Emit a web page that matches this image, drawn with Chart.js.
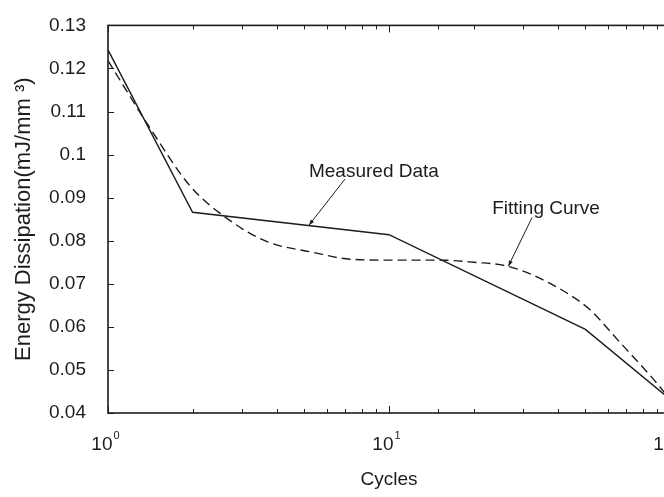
<!DOCTYPE html>
<html>
<head>
<meta charset="utf-8">
<script src="https://cdn.jsdelivr.net/npm/chart.js@4"></script>
<style>
  html, body { margin: 0; padding: 0; background: #fff; overflow: hidden; }
  #wrap { width: 700px; height: 497px; }
</style>
</head>
<body>
<div id="wrap"><canvas id="chart"></canvas></div>
<script>
// measured points (cycles vs energy dissipation)
const cycles = [1, 2, 10, 50, 100];
const measured = [0.1243, 0.0866, 0.0814, 0.0594, 0.0432];

// fitting curve
const fitCycles = [1, 1.41, 1.96, 2.65, 3.68, 5.37, 7.27, 10, 15.2, 20, 26.4, 33.6, 43.1, 52.1, 64.9, 78.3, 88.5, 100];
const fitted = [0.1218, 0.1062, 0.0927, 0.0852, 0.0798, 0.0773, 0.0757, 0.0755, 0.0755, 0.0750, 0.0741, 0.0716, 0.0678, 0.0639, 0.0571, 0.0513, 0.0474, 0.0432];

const yTicks = [0.04, 0.05, 0.06, 0.07, 0.08, 0.09, 0.10, 0.11, 0.12, 0.13];
const xDecades = [1, 10, 100];

const fontFamily = "'Liberation Sans', Arial, Helvetica, sans-serif";
const ink = "#1c1c1c";

// labels with leader arrows, placed in data units
const notes = [
    { text: "Measured Data", at: [5.19, 0.0961], from: [6.97, 0.0943], to: [5.19, 0.0836] },
    { text: "Fitting Curve", at: [23.3, 0.0875], from: [32.3, 0.0854], to: [26.6, 0.0741] }
];

function isDecade(v) {
    const l = Math.log10(v);
    return Math.abs(l - Math.round(l)) < 1e-9;
}

// box around the plot with inward ticks, matlab style
const framePlugin = {
    id: "frame",
    afterDraw(chart) {
        const { ctx, chartArea: a, scales: { x, y } } = chart;
        ctx.save();
        ctx.strokeStyle = ink;
        ctx.fillStyle = ink;
        ctx.lineWidth = 1;
        x.ticks.forEach(t => {
            const px = Math.round(x.getPixelForValue(t.value)) + 0.5;
            const len = isDecade(t.value) ? 7 : 4;
            ctx.beginPath();
            ctx.moveTo(px, a.bottom); ctx.lineTo(px, a.bottom - len);
            ctx.moveTo(px, a.top); ctx.lineTo(px, a.top + len);
            ctx.stroke();
        });
        yTicks.forEach(v => {
            const py = Math.round(y.getPixelForValue(v)) + 0.5;
            ctx.beginPath();
            ctx.moveTo(a.left, py); ctx.lineTo(a.left + 6, py);
            ctx.moveTo(a.right, py); ctx.lineTo(a.right - 6, py);
            ctx.stroke();
        });
        ctx.lineWidth = 1.6;
        ctx.strokeRect(a.left, a.top, a.right - a.left, a.bottom - a.top);

        // x tick labels as 10 with a raised exponent
        ctx.textBaseline = "alphabetic";
        ctx.textAlign = "left";
        xDecades.forEach(v => {
            const exp = String(Math.round(Math.log10(v)));
            ctx.font = "19px " + fontFamily;
            const wBase = ctx.measureText("10").width;
            ctx.font = "11px " + fontFamily;
            const wExp = ctx.measureText(exp).width;
            const left = x.getPixelForValue(v) - (wBase + wExp) / 2 - 3;
            ctx.font = "19px " + fontFamily;
            ctx.fillText("10", left, a.bottom + 37);
            ctx.font = "11px " + fontFamily;
            ctx.fillText(exp, left + wBase + 1, a.bottom + 26);
        });

        // annotations
        ctx.font = "19px " + fontFamily;
        ctx.textBaseline = "middle";
        notes.forEach(n => {
            ctx.fillText(n.text, x.getPixelForValue(n.at[0]), y.getPixelForValue(n.at[1]));
            const x1 = x.getPixelForValue(n.from[0]), y1 = y.getPixelForValue(n.from[1]);
            const x2 = x.getPixelForValue(n.to[0]), y2 = y.getPixelForValue(n.to[1]);
            ctx.lineWidth = 1;
            ctx.beginPath();
            ctx.moveTo(x1, y1); ctx.lineTo(x2, y2);
            ctx.stroke();
            const ang = Math.atan2(y2 - y1, x2 - x1);
            ctx.beginPath();
            ctx.moveTo(x2, y2);
            ctx.lineTo(x2 - 6 * Math.cos(ang - 0.35), y2 - 6 * Math.sin(ang - 0.35));
            ctx.lineTo(x2 - 6 * Math.cos(ang + 0.35), y2 - 6 * Math.sin(ang + 0.35));
            ctx.closePath();
            ctx.fill();
        });
        ctx.restore();
    }
};

new Chart(document.getElementById("chart"), {
    type: "line",
    data: {
        datasets: [{
            label: "Measured Data",
            data: cycles.map((c, i) => ({ x: c, y: measured[i] })),
            borderColor: ink,
            borderWidth: 1.4,
            pointRadius: 0,
            tension: 0
        }, {
            label: "Fitting Curve",
            data: fitCycles.map((c, i) => ({ x: c, y: fitted[i] })),
            borderColor: ink,
            borderWidth: 1.4,
            borderDash: [9, 5],
            pointRadius: 0,
            cubicInterpolationMode: "monotone"
        }]
    },
    options: {
        responsive: true,
        maintainAspectRatio: false,
        animation: false,
        layout: { padding: { top: 15, right: 30, left: 0, bottom: 0 } },
        plugins: { legend: { display: false }, tooltip: { enabled: false } },
        scales: {
            x: {
                type: "logarithmic",
                min: 1,
                max: 100,
                grid: { display: false },
                border: { display: false },
                ticks: { display: false, autoSkip: false },
                title: {
                    display: true,
                    text: "Cycles",
                    color: ink,
                    font: { size: 19, family: fontFamily },
                    padding: { top: 0, bottom: 6 }
                },
                afterFit(s) { s.height = 84; }
            },
            y: {
                min: 0.04,
                max: 0.13,
                grid: { display: false },
                border: { display: false },
                afterBuildTicks(s) { s.ticks = yTicks.map(v => ({ value: v })); },
                ticks: {
                    padding: 14,
                    color: ink,
                    font: { size: 19, family: fontFamily },
                    callback: v => String(+v.toFixed(2))
                },
                title: {
                    display: true,
                    text: "Energy Dissipation(mJ/mm \u00b3)",
                    color: ink,
                    font: { size: 22, family: fontFamily },
                    padding: { top: 11, bottom: 0 }
                },
                afterFit(s) { s.width = 108; }
            }
        }
    },
    plugins: [framePlugin]
});
</script>
</body>
</html>
